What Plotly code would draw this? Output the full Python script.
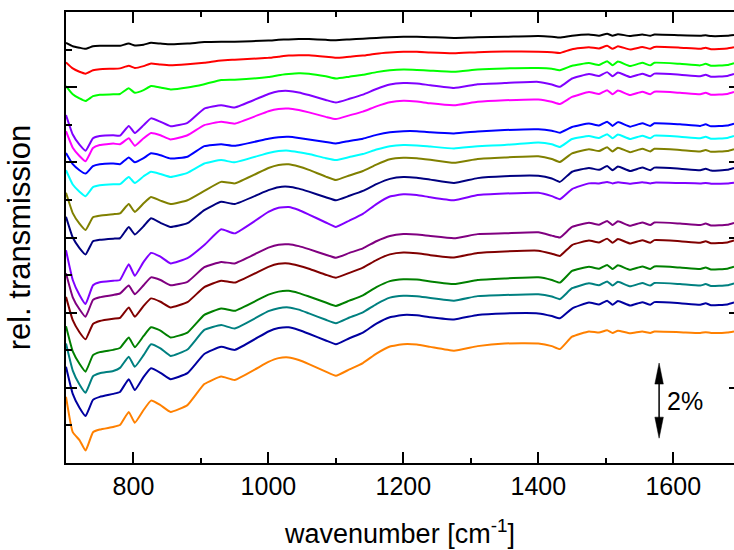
import plotly.graph_objects as go

# wavenumber grid (cm^-1)
wavenumber = [700, 710, 720, 729, 740, 750, 770, 780, 793, 802, 815, 826, 840, 855, 880, 905, 930, 950,
              1000, 1015, 1030, 1045, 1060, 1085, 1100, 1120, 1140, 1160, 1180, 1200, 1220, 1240, 1275,
              1310, 1350, 1400, 1420, 1432, 1450, 1475, 1490, 1502, 1510, 1518, 1536, 1554, 1566, 1572,
              1610, 1640, 1648, 1656, 1680, 1690]

# relative transmission (%), stacked spectra, top to bottom
black = [11.18, 11.09, 11.05, 11.02, 11.09, 11.10, 11.10, 11.10, 11.16, 11.11, 11.13, 11.18, 11.16, 11.14, 11.16, 11.20, 11.21, 11.21,
         11.24, 11.26, 11.27, 11.28, 11.28, 11.26, 11.25, 11.27, 11.29, 11.31, 11.33, 11.34, 11.34, 11.33, 11.31,
         11.33, 11.34, 11.36, 11.34, 11.32, 11.37, 11.40, 11.37, 11.42, 11.37, 11.41, 11.36, 11.40, 11.37, 11.40,
         11.38, 11.37, 11.38, 11.36, 11.37, 11.39]
red = [10.66, 10.50, 10.41, 10.36, 10.45, 10.48, 10.49, 10.50, 10.57, 10.51, 10.56, 10.63, 10.60, 10.58, 10.61, 10.65, 10.71, 10.73,
       10.78, 10.81, 10.84, 10.85, 10.85, 10.81, 10.78, 10.81, 10.84, 10.89, 10.92, 10.94, 10.94, 10.92, 10.90,
       10.93, 10.95, 10.94, 10.93, 10.91, 11.01, 11.06, 11.03, 11.10, 11.02, 11.09, 11.00, 11.07, 11.02, 11.07,
       11.05, 11.02, 11.05, 11.01, 11.03, 11.06]
green = [10.03, 9.81, 9.70, 9.63, 9.76, 9.80, 9.81, 9.82, 9.97, 9.85, 9.92, 10.03, 9.99, 9.94, 9.99, 10.08, 10.19, 10.20,
         10.27, 10.32, 10.35, 10.37, 10.36, 10.29, 10.23, 10.28, 10.33, 10.40, 10.45, 10.47, 10.46, 10.44, 10.41,
         10.47, 10.50, 10.51, 10.49, 10.45, 10.57, 10.64, 10.59, 10.69, 10.58, 10.68, 10.56, 10.65, 10.58, 10.65,
         10.62, 10.58, 10.62, 10.57, 10.59, 10.64]
violet = [9.26, 8.74, 8.47, 8.31, 8.64, 8.70, 8.72, 8.71, 8.97, 8.78, 8.99, 9.17, 9.08, 8.96, 9.05, 9.43, 9.52, 9.46,
          9.82, 9.89, 9.90, 9.86, 9.79, 9.66, 9.59, 9.69, 9.80, 9.95, 10.07, 10.11, 10.10, 10.05, 9.98,
          10.08, 10.11, 10.14, 10.07, 10.01, 10.23, 10.35, 10.30, 10.40, 10.29, 10.39, 10.27, 10.36, 10.29, 10.36,
          10.33, 10.29, 10.33, 10.28, 10.30, 10.35]
magenta = [8.83, 8.39, 8.17, 8.03, 8.38, 8.46, 8.50, 8.48, 8.64, 8.44, 8.64, 8.78, 8.72, 8.61, 8.72, 8.99, 9.08, 9.03,
           9.36, 9.42, 9.43, 9.39, 9.33, 9.21, 9.15, 9.25, 9.35, 9.49, 9.60, 9.64, 9.62, 9.57, 9.52,
           9.61, 9.65, 9.67, 9.61, 9.55, 9.74, 9.87, 9.82, 9.92, 9.81, 9.91, 9.79, 9.88, 9.81, 9.88,
           9.85, 9.81, 9.85, 9.80, 9.82, 9.87]
blue = [8.25, 7.95, 7.79, 7.70, 7.90, 7.95, 7.97, 7.95, 8.13, 8.00, 8.11, 8.24, 8.19, 8.10, 8.15, 8.43, 8.48, 8.44,
        8.63, 8.67, 8.68, 8.65, 8.61, 8.54, 8.50, 8.57, 8.63, 8.73, 8.80, 8.83, 8.83, 8.80, 8.77,
        8.82, 8.86, 8.88, 8.84, 8.79, 8.94, 9.03, 8.98, 9.08, 8.97, 9.07, 8.95, 9.04, 8.97, 9.04,
        9.01, 8.97, 9.01, 8.96, 8.98, 9.03]
cyan = [7.79, 7.41, 7.22, 7.10, 7.34, 7.39, 7.42, 7.42, 7.61, 7.45, 7.63, 7.75, 7.69, 7.61, 7.72, 7.97, 8.06, 8.00,
        8.25, 8.30, 8.31, 8.27, 8.22, 8.11, 8.06, 8.14, 8.22, 8.34, 8.43, 8.46, 8.45, 8.42, 8.37,
        8.43, 8.46, 8.53, 8.48, 8.41, 8.62, 8.70, 8.65, 8.75, 8.64, 8.74, 8.62, 8.71, 8.64, 8.71,
        8.68, 8.64, 8.68, 8.63, 8.65, 8.70]
olive = [7.19, 6.65, 6.37, 6.20, 6.54, 6.58, 6.62, 6.64, 6.89, 6.68, 6.91, 7.08, 6.98, 6.89, 6.99, 7.24, 7.48, 7.44,
         7.85, 7.93, 7.95, 7.89, 7.80, 7.62, 7.53, 7.65, 7.77, 7.94, 8.08, 8.12, 8.11, 8.07, 7.99,
         8.09, 8.13, 8.16, 8.09, 8.01, 8.24, 8.35, 8.30, 8.40, 8.29, 8.39, 8.27, 8.36, 8.29, 8.36,
         8.33, 8.29, 8.33, 8.28, 8.30, 8.35]
navy = [6.55, 6.00, 5.72, 5.55, 5.90, 5.94, 5.97, 5.98, 6.28, 6.08, 6.30, 6.51, 6.39, 6.28, 6.38, 6.73, 6.95, 6.89,
        7.26, 7.34, 7.35, 7.30, 7.22, 7.07, 6.99, 7.11, 7.24, 7.42, 7.56, 7.61, 7.59, 7.54, 7.45,
        7.58, 7.63, 7.64, 7.57, 7.48, 7.75, 7.85, 7.80, 7.90, 7.79, 7.89, 7.77, 7.86, 7.79, 7.86,
        7.83, 7.79, 7.83, 7.78, 7.80, 7.85]
violet2 = [5.66, 4.87, 4.47, 4.23, 4.73, 4.81, 4.85, 4.87, 5.29, 4.98, 5.35, 5.59, 5.49, 5.31, 5.45, 5.80, 6.22, 6.11,
           6.68, 6.79, 6.81, 6.73, 6.61, 6.40, 6.28, 6.45, 6.63, 6.89, 7.09, 7.15, 7.13, 7.07, 6.99,
           7.13, 7.17, 7.19, 7.10, 7.02, 7.29, 7.44, 7.44, 7.48, 7.44, 7.47, 7.43, 7.47, 7.44, 7.46,
           7.45, 7.44, 7.45, 7.43, 7.44, 7.46]
purple = [5.05, 4.41, 4.09, 3.89, 4.34, 4.41, 4.47, 4.51, 4.72, 4.49, 4.73, 4.94, 4.87, 4.73, 4.82, 5.21, 5.35, 5.31,
          5.73, 5.81, 5.82, 5.77, 5.69, 5.54, 5.46, 5.59, 5.71, 5.90, 6.04, 6.09, 6.08, 6.04, 5.98,
          6.09, 6.11, 6.14, 6.05, 6.00, 6.28, 6.39, 6.34, 6.44, 6.33, 6.43, 6.31, 6.40, 6.33, 6.40,
          6.37, 6.33, 6.37, 6.32, 6.34, 6.39]
maroon = [4.42, 3.80, 3.48, 3.29, 3.70, 3.78, 3.84, 3.86, 4.14, 3.89, 4.18, 4.38, 4.29, 4.14, 4.28, 4.68, 4.85, 4.80,
          5.22, 5.30, 5.31, 5.25, 5.17, 5.01, 4.93, 5.06, 5.20, 5.40, 5.55, 5.60, 5.58, 5.53, 5.47,
          5.59, 5.63, 5.65, 5.57, 5.51, 5.80, 5.92, 5.87, 5.97, 5.86, 5.96, 5.84, 5.93, 5.86, 5.93,
          5.90, 5.86, 5.90, 5.85, 5.87, 5.92]
dgreen = [3.64, 2.97, 2.64, 2.43, 2.87, 2.95, 3.01, 3.06, 3.34, 3.08, 3.38, 3.61, 3.52, 3.34, 3.47, 3.94, 4.11, 4.05,
          4.48, 4.56, 4.58, 4.52, 4.43, 4.27, 4.18, 4.32, 4.46, 4.68, 4.84, 4.89, 4.88, 4.83, 4.76,
          4.87, 4.91, 4.94, 4.87, 4.80, 5.11, 5.22, 5.17, 5.27, 5.16, 5.26, 5.14, 5.23, 5.16, 5.23,
          5.20, 5.16, 5.20, 5.15, 5.17, 5.22]
teal = [3.18, 2.46, 2.09, 1.87, 2.31, 2.39, 2.45, 2.53, 2.83, 2.56, 2.87, 3.16, 3.05, 2.85, 3.02, 3.54, 3.67, 3.58,
        4.04, 4.12, 4.14, 4.08, 3.98, 3.81, 3.72, 3.87, 4.01, 4.23, 4.40, 4.45, 4.44, 4.39, 4.32,
        4.44, 4.47, 4.49, 4.43, 4.36, 4.65, 4.78, 4.73, 4.83, 4.72, 4.82, 4.70, 4.79, 4.72, 4.79,
        4.76, 4.72, 4.76, 4.71, 4.73, 4.78]
royal = [2.56, 1.84, 1.47, 1.25, 1.68, 1.76, 1.84, 1.89, 2.23, 1.94, 2.29, 2.52, 2.40, 2.23, 2.39, 2.90, 3.09, 3.01,
         3.50, 3.59, 3.61, 3.54, 3.44, 3.26, 3.16, 3.32, 3.47, 3.71, 3.88, 3.94, 3.93, 3.88, 3.82,
         3.94, 3.98, 3.98, 3.91, 3.85, 4.11, 4.27, 4.22, 4.32, 4.21, 4.31, 4.19, 4.28, 4.21, 4.28,
         4.25, 4.21, 4.25, 4.20, 4.22, 4.27]
orange = [1.76, 0.82, 0.61, 0.33, 0.82, 0.89, 0.96, 1.01, 1.36, 1.07, 1.41, 1.66, 1.54, 1.36, 1.54, 2.10, 2.30, 2.21,
          2.69, 2.79, 2.81, 2.74, 2.63, 2.43, 2.32, 2.49, 2.66, 2.91, 3.10, 3.16, 3.15, 3.09, 2.99,
          3.11, 3.18, 3.18, 3.11, 3.03, 3.36, 3.50, 3.47, 3.53, 3.46, 3.52, 3.45, 3.50, 3.46, 3.50,
          3.48, 3.46, 3.48, 3.46, 3.47, 3.50]

series = [black, red, green, violet, magenta, blue, cyan, olive, navy, violet2,
          purple, maroon, dgreen, teal, royal, orange]
colors = ["#000000", "#FF0000", "#00FF00", "#8000FF", "#FF00FF", "#0000FF", "#00FFFF", "#808000",
          "#000080", "#8000FF", "#800080", "#800000", "#008000", "#008080", "#0000A0", "#FF8000"]

# scale bar (2 %)
bar_x = 1579
bar_bottom = 0.66
bar_span = 2.0

FONT = "Liberation Sans, Arial, Helvetica, sans-serif"

fig = go.Figure()
for vals, col in zip(series, colors):
    fig.add_trace(go.Scatter(x=wavenumber, y=vals, mode="lines",
                             line=dict(color=col, width=2, shape="spline", smoothing=0.4),
                             showlegend=False, hoverinfo="skip"))

# dummy trace for right-hand mirrored ticks
fig.add_trace(go.Scatter(x=[None], y=[None], yaxis="y2", showlegend=False))

head = 0.56
hw = 6.3
top = bar_bottom + bar_span
fig.add_shape(type="line", x0=bar_x, x1=bar_x, y0=bar_bottom + 0.3, y1=top - 0.3,
              line=dict(color="black", width=1.5))
fig.add_shape(type="path", path=f"M {bar_x},{top} L {bar_x-hw},{top-head} L {bar_x+hw},{top-head} Z",
              fillcolor="black", line=dict(color="black", width=0.5))
fig.add_shape(type="path", path=f"M {bar_x},{bar_bottom} L {bar_x-hw},{bar_bottom+head} L {bar_x+hw},{bar_bottom+head} Z",
              fillcolor="black", line=dict(color="black", width=0.5))
fig.add_annotation(x=bar_x + 9, y=bar_bottom + bar_span / 2, text="2%", showarrow=False,
                   xanchor="left", yanchor="middle", font=dict(size=25, family=FONT, color="black"))

fig.update_layout(
    width=734, height=550,
    margin=dict(l=66, r=0, t=12, b=87),
    plot_bgcolor="white", paper_bgcolor="white",
    font=dict(family=FONT, color="black", size=25),
    xaxis=dict(range=[700, 1690], showline=True, linecolor="black", linewidth=2, mirror="ticks",
               ticks="inside", ticklen=11, tickwidth=2, tickcolor="black", tick0=0, dtick=200,
               minor=dict(dtick=100, tick0=0, ticks="inside", ticklen=5, tickwidth=2, tickcolor="black"),
               showgrid=False, zeroline=False, tickfont=dict(size=25),
               title=dict(text="wavenumber [cm<sup>-1</sup>]", font=dict(size=27), standoff=25)),
    yaxis=dict(range=[0, 12], showline=True, linecolor="black", linewidth=2, mirror=False,
               ticks="inside", ticklen=11, tickwidth=2, tickcolor="black", tick0=0, dtick=2,
               minor=dict(dtick=1, tick0=0, ticks="inside", ticklen=6, tickwidth=2, tickcolor="black"),
               showticklabels=False, showgrid=False, zeroline=False,
               title=dict(text="rel. transmission", font=dict(size=31), standoff=24)),
    yaxis2=dict(range=[0, 12], overlaying="y", side="right", anchor="x", showline=False,
                ticks="inside", ticklen=5, tickwidth=2, tickcolor="black", tick0=0, dtick=2,
                showticklabels=False, showgrid=False, zeroline=False),
)

fig.write_html("out.html")
